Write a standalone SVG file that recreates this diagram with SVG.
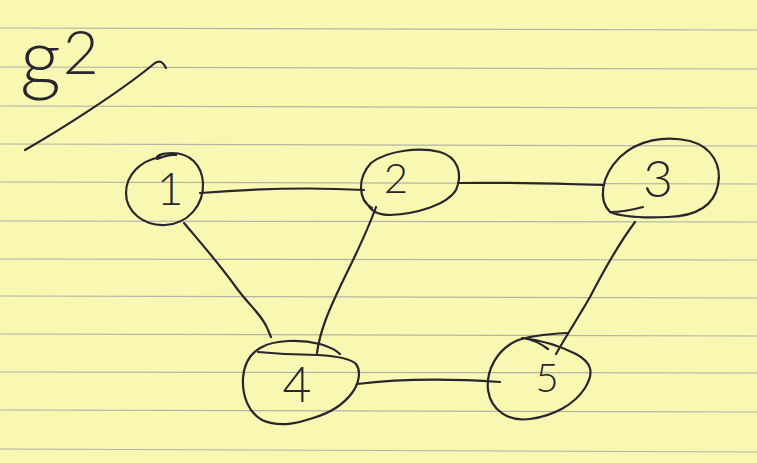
<svg xmlns="http://www.w3.org/2000/svg" width="757" height="463" viewBox="0 0 757 463">
  <style>
    .ink { fill: none; stroke: #26262c; stroke-width: 2.2; stroke-linecap: round; stroke-linejoin: round; }
    .rule { stroke: #b2b2aa; stroke-width: 1.2; }
    .digit { font-family: Lato, "Open Sans", "Liberation Sans", sans-serif; font-weight: 300; fill: #26262c; text-anchor: middle; }
  </style>

  <!-- legal pad paper -->
  <rect width="757" height="463" fill="#f8f8b2"/>
  <g id="ruling">
    <line class="rule" x1="0" y1="28" x2="757" y2="30"/>
    <line class="rule" x1="0" y1="67" x2="757" y2="69"/>
    <line class="rule" x1="0" y1="106" x2="757" y2="108"/>
    <line class="rule" x1="0" y1="144" x2="757" y2="146"/>
    <line class="rule" x1="0" y1="182" x2="757" y2="184"/>
    <line class="rule" x1="0" y1="221" x2="757" y2="222"/>
    <line class="rule" x1="0" y1="259" x2="757" y2="260"/>
    <line class="rule" x1="0" y1="296" x2="757" y2="298"/>
    <line class="rule" x1="0" y1="334" x2="757" y2="336"/>
    <line class="rule" x1="0" y1="372" x2="757" y2="373"/>
    <line class="rule" x1="0" y1="410" x2="757" y2="412"/>
    <line class="rule" x1="0" y1="449" x2="757" y2="452"/>
  </g>

  <!-- title with underline stroke -->
  <g id="title">
    <text x="20" y="86" font-family="Lato, 'Open Sans', 'Liberation Sans', sans-serif" font-weight="300" font-size="80" fill="#26262c">g<tspan dx="2" dy="-12" font-size="62">2</tspan></text>
    <path class="ink" d="M 25 150 C 60 130, 120 92, 155 63 C 160 60, 163 62, 166 68"/>
  </g>

  <!-- edges -->
  <g id="connectors">
    <path class="ink" d="M 200 193 C 250 189, 310 187, 364 190"/>
    <path class="ink" d="M 458 183 C 510 182, 560 184, 604 185"/>
    <path class="ink" d="M 184 223 C 200 242, 218 262, 238 290 C 252 308, 264 318, 268 330 L 271 337"/>
    <path class="ink" d="M 376 207 C 366 235, 352 262, 340 287 C 330 308, 320 330, 317 353"/>
    <path class="ink" d="M 635 222 C 620 242, 604 270, 590 297 C 578 318, 566 336, 556 354"/>
    <path class="ink" d="M 357 384 C 390 380, 440 378, 500 382"/>
  </g>

  <g id="node1">
    <path class="ink" d="M 160 157 C 140 161, 126 175, 126 193 C 126 212, 144 226, 165 225 C 188 224, 204 205, 203 183 C 202 165, 190 153, 172 153 C 162 153, 155 156, 157 159 C 162 157, 170 154, 176 155"/>
    <text class="digit" x="170" y="205" font-size="46">1</text>
  </g>

  <g id="node2">
    <path class="ink" d="M 372 208 C 358 200, 357 178, 371 163 C 388 150, 420 147, 440 152 C 458 157, 463 174, 456 190 C 447 205, 416 214, 390 215 C 380 215, 372 212, 368 205"/>
    <text class="digit" x="396" y="193" font-size="42">2</text>
  </g>

  <g id="node3">
    <path class="ink" d="M 610 212 C 598 200, 601 176, 620 157 C 638 140, 665 135, 690 141 C 712 147, 722 165, 718 185 C 714 205, 698 216, 668 217 C 645 218, 622 217, 610 212 C 620 212, 632 210, 643 207"/>
    <text class="digit" x="658" y="197" font-size="52">3</text>
  </g>

  <g id="node4">
    <path class="ink" d="M 258 352 C 278 354, 300 355, 318 355 C 335 356, 350 358, 356 364 C 362 372, 358 385, 352 393 C 343 405, 330 413, 313 418 C 298 423, 280 428, 262 420 C 248 412, 242 395, 243 378 C 244 364, 250 353, 262 347 C 275 340, 300 339, 320 344 C 330 347, 336 350, 340 354"/>
    <text class="digit" x="297" y="402" font-size="50">4</text>
  </g>

  <g id="node5">
    <path class="ink" d="M 567 333 C 548 334, 528 336, 516 341 C 497 350, 486 370, 488 390 C 491 410, 508 422, 530 419 C 553 416, 574 405, 585 388 C 595 372, 591 362, 576 354 C 562 347, 541 340, 522 338 C 530 339, 540 343, 548 349"/>
    <text class="digit" x="547" y="392" font-size="40">5</text>
  </g>
</svg>
